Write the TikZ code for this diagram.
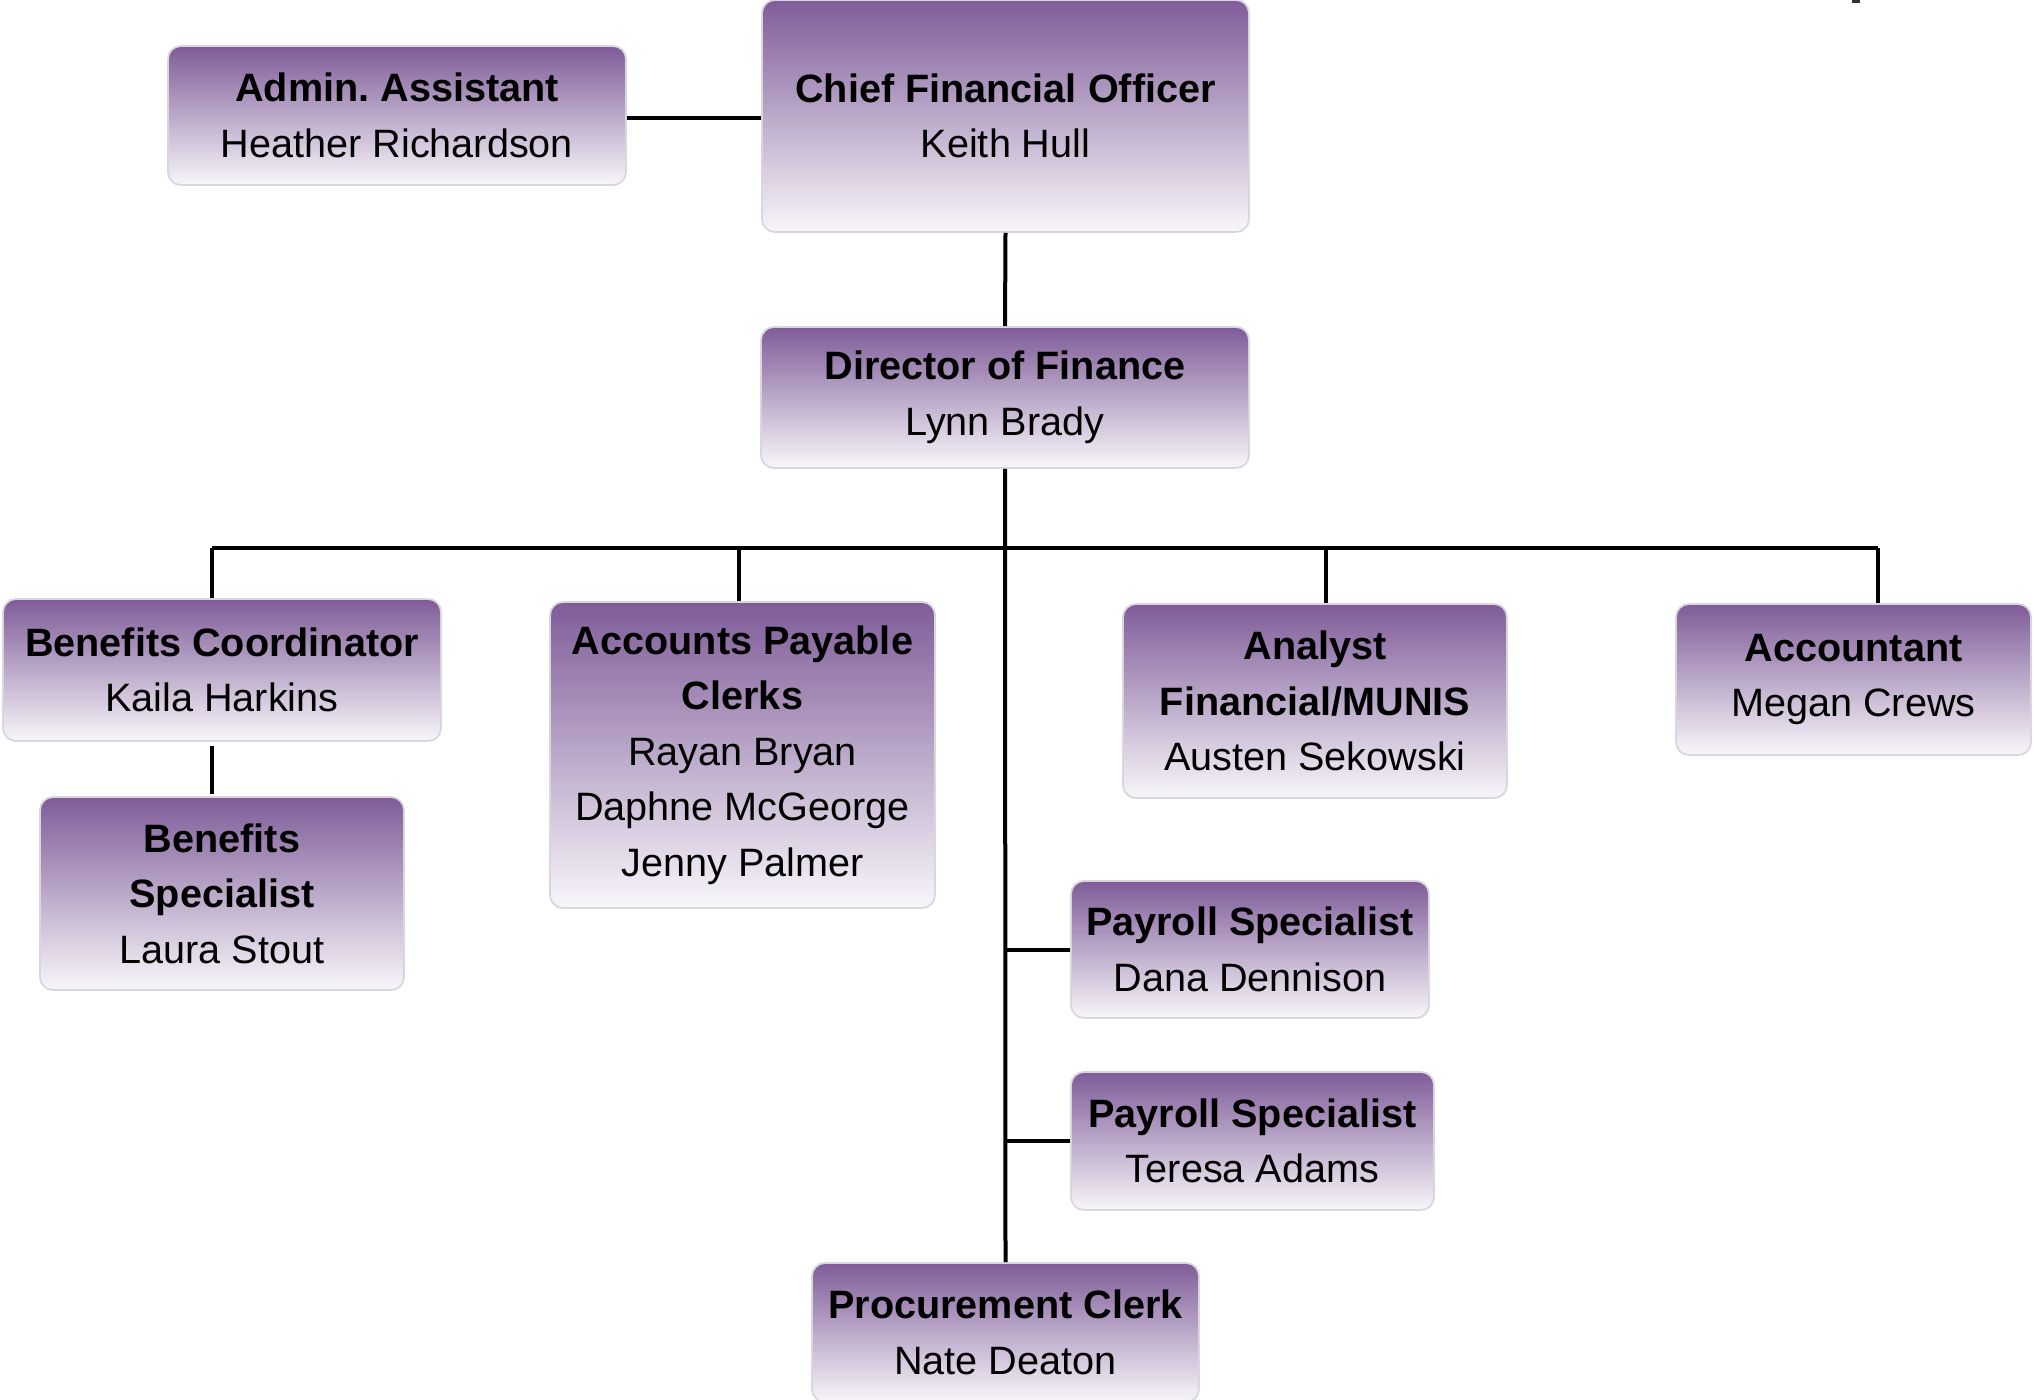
\documentclass[tikz,border=0pt]{standalone}
\usepackage{fontspec}
\setmainfont{Liberation Sans}
\frenchspacing
\definecolor{boxtop}{RGB}{127,92,153}
\definecolor{boxbot}{RGB}{248,246,250}
\definecolor{boxline}{RGB}{218,214,222}
\tikzset{
  orgbox/.style={rounded corners=6.5pt, draw=boxline, line width=0.9pt,
    top color=boxtop, bottom color=boxbot, align=center, inner sep=0pt,
    font=\fontsize{19.8}{27.8}\selectfont, text=black},
  conn/.style={line width=2pt, black}
}
\begin{document}
\begin{tikzpicture}[x=0.5pt,y=-0.5pt]
\useasboundingbox (0,0) rectangle (2034,1400);
\fill[white] (0,0) rectangle (2034,1400);
% boxes
\node[orgbox, minimum width=229pt, minimum height=69.5pt] (admin) at (397,115.5) {\textbf{Admin. Assistant}\\Heather Richardson};
\node[orgbox, minimum width=243.5pt, minimum height=116pt] (cfo) at (1005.5,116) {\textbf{Chief Financial Officer}\\Keith Hull};
\node[orgbox, minimum width=244pt, minimum height=70.5pt] (dir) at (1005,397.5) {\textbf{Director of Finance}\\Lynn Brady};
\node[orgbox, minimum width=219pt, minimum height=71pt] (bc) at (222,670) {\textbf{Benefits Coordinator}\\Kaila Harkins};
\node[orgbox, minimum width=182pt, minimum height=96.5pt] (bs) at (222,893.5) {\textbf{Benefits}\\\textbf{Specialist}\\Laura Stout};
\node[orgbox, minimum width=192.5pt, minimum height=153pt] (ap) at (742.5,755) {\textbf{Accounts Payable}\\\textbf{Clerks}\\Rayan Bryan\\Daphne McGeorge\\Jenny Palmer};
\node[orgbox, minimum width=192pt, minimum height=97pt] (an) at (1315,701) {\textbf{Analyst}\\\textbf{Financial/MUNIS}\\Austen Sekowski};
\node[orgbox, minimum width=177.5pt, minimum height=75.5pt] (acc) at (1853.5,679.5) {\textbf{Accountant}\\Megan Crews};
\node[orgbox, minimum width=179pt, minimum height=68.5pt] (p1) at (1250,949.5) {\textbf{Payroll Specialist}\\Dana Dennison};
\node[orgbox, minimum width=181.5pt, minimum height=69pt] (p2) at (1252.5,1141) {\textbf{Payroll Specialist}\\Teresa Adams};
\node[orgbox, minimum width=193.5pt, minimum height=69.5pt] (proc) at (1005.5,1332.5) {\textbf{Procurement Clerk}\\Nate Deaton};
% bus coordinates
\coordinate (busL) at (212,548);
\coordinate (busAP) at (739,548);
\coordinate (busM) at (1005,548);
\coordinate (busAN) at (1326,548);
\coordinate (busR) at (1878,548);
\coordinate (admR) at ([yshift=-1.25pt]admin.east);
% connectors
\draw[conn] (admR) -- (admR -| cfo.west);
\draw[conn] (cfo.south) -- (dir.north);
\draw[conn] (dir.south) -- (proc.north);
\draw[conn] (busL) -- (busR);
\draw[conn] (busL) -- (busL |- bc.north);
\draw[conn] (busAP) -- (busAP |- ap.north);
\draw[conn] (busAN) -- (busAN |- an.north);
\draw[conn] (busR) -- (busR |- acc.north);
\draw[conn, shorten <=2pt, shorten >=1pt] (bc.south -| busL) -- (bs.north -| busL);
\draw[conn] (p1.west -| busM) -- (p1.west);
\draw[conn] (p2.west -| busM) -- (p2.west);
% small mark at top edge
\fill[black!80] (1852,0) rectangle (1860,3);
\end{tikzpicture}
\end{document}
